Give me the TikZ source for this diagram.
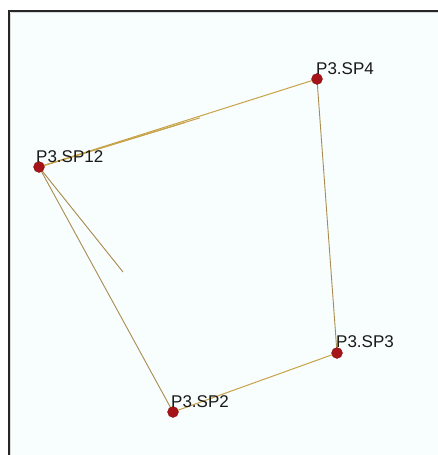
\documentclass[tikz,border=0pt]{standalone}
\usepackage{fontspec}
\setmainfont{Liberation Sans}
\definecolor{edgecol}{RGB}{200,162,70}
\definecolor{edgedark}{RGB}{170,140,80}
\definecolor{dotcol}{RGB}{165,20,25}
\definecolor{bgcol}{RGB}{248,253,253}
\begin{document}
\begin{tikzpicture}[x=1pt,y=-1pt,
  dot/.style={circle,fill=dotcol,draw=dotcol!80!black,line width=0.3pt,inner sep=0pt,minimum size=11pt},
  lbl/.style={anchor=base west,inner sep=0pt,font=\fontsize{17}{19}\selectfont,text=black!90},
  edge/.style={draw=edgecol,line width=1pt},
  edged/.style={draw=edgedark,line width=0.9pt}]
\useasboundingbox (0,0) rectangle (438,455);
\fill[white] (0,0) rectangle (438,455);
\fill[bgcol] (9,11) rectangle (438,455);
\draw[black!15,line width=1pt] (10.5,12.5) -- (438,12.5);
\draw[black!15,line width=1pt] (10.5,12.5) -- (10.5,455);
\draw[black!85,line width=2pt] (8.5,455) -- (8.5,10.5) -- (438,10.5);
% coordinates
\coordinate (c12) at (39,167);
\coordinate (c4) at (317,79);
\coordinate (c3) at (337,353);
\coordinate (c2) at (173,412);
\coordinate (free) at (123,272);
\coordinate (fanA) at (200,117.8);
\coordinate (fanB) at (185,122.5);
% edges
\draw[edge] (c12) -- (c4);
\draw[edge] (c12) -- (fanA);
\draw[edge] (c12) -- (fanB);
\draw[edged] (c4) -- (c3);
\draw[edge] (c3) -- (c2);
\draw[edged] (c12) -- (c2);
\draw[edged] (c12) -- (free);
% nodes
\node[dot] (n12) at (c12) {};
\node[dot] (n4) at (c4) {};
\node[dot] (n3) at (c3) {};
\node[dot] (n2) at (c2) {};
% labels
\node[lbl] (l12) at (36,162) {P3.SP12};
\node[lbl] (l4) at (316,74) {P3.SP4};
\node[lbl] (l3) at (336,347) {P3.SP3};
\node[lbl] (l2) at (171,407) {P3.SP2};
\end{tikzpicture}
\end{document}
